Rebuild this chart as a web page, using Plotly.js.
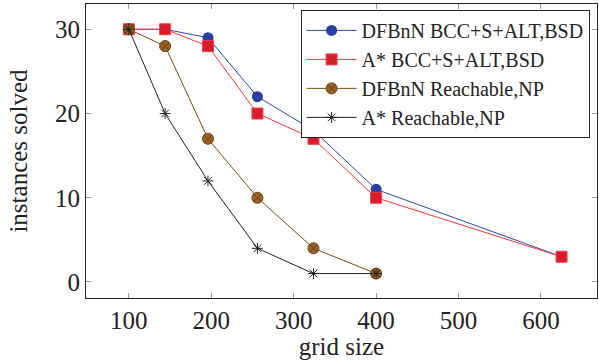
<!DOCTYPE html>
<html><head><meta charset="utf-8">
<script src="https://cdn.plot.ly/plotly-3.0.1.min.js"></script>
<style>body{margin:0;background:#fff}#c{width:599px;height:360px}</style>
</head><body><div id="c"></div>
<script>
const gridX = [100, 144, 196, 256, 324, 400, 625];
const gridXShort = [100, 144, 196, 256, 324, 400];
const dfbnnBCC = [30, 30, 29, 22, 18, 11, 3];
const astarBCC = [30, 30, 28, 20, 17, 10, 3];
const dfbnnReach = [30, 28, 17, 10, 4, 1];
const astarReach = [30, 20, 12, 4, 1, 1];
const names = ["DFBnN BCC+S+ALT,BSD", "A* BCC+S+ALT,BSD", "DFBnN Reachable,NP", "A* Reachable,NP"];
const xTicks = [100, 200, 300, 400, 500, 600];
const yTicks = [0, 10, 20, 30];

const traces = [
  {x: gridX, y: dfbnnBCC, name: names[0], mode: "lines+markers",
   line: {color: "#2b48b0", width: 1}, marker: {symbol: "circle", size: 11, color: "#2a3f9f"}},
  {x: gridX, y: astarBCC, name: names[1], mode: "lines+markers",
   line: {color: "#ff3040", width: 1}, marker: {symbol: "square", size: 11, color: "#d91c2a", line: {color: "#f04050", width: 1}}},
  {x: gridXShort, y: dfbnnReach, name: names[2], mode: "lines+markers",
   line: {color: "#7a4a14", width: 1}, marker: {symbol: "circle-x", size: 11, color: "#9c6224", line: {color: "#6b3f10", width: 1}}},
  {x: gridXShort, y: astarReach, name: names[3], mode: "lines+markers",
   line: {color: "#222", width: 1}, marker: {symbol: "asterisk-open", size: 9, color: "#222", line: {color: "#222", width: 1}}}
];

const F = "Liberation Serif";
const layout = {
  width: 599, height: 360,
  margin: {l: 86, r: 2, t: 4, b: 62},
  paper_bgcolor: "#fff", plot_bgcolor: "#fff",
  showlegend: true,
  legend: {x: 0.42, y: 0.98, xanchor: "left", yanchor: "top",
    bgcolor: "#fff", bordercolor: "#222", borderwidth: 1,
    font: {family: F, size: 20, color: "#222"}, tracegroupgap: 0, itemwidth: 50},
  xaxis: {range: [48, 668], tickvals: xTicks, ticktext: xTicks.map(String),
    showgrid: false, zeroline: false, showline: true, mirror: "ticks",
    linecolor: "#222", linewidth: 1, ticks: "inside", ticklen: 5, tickcolor: "#999",
    tickfont: {family: F, size: 25, color: "#222"},
    title: {text: "grid size", font: {family: F, size: 25, color: "#222"}, standoff: 0}},
  yaxis: {range: [-1.9, 33], tickvals: yTicks, ticktext: yTicks.map(String),
    showgrid: false, zeroline: false, showline: true, mirror: "ticks",
    linecolor: "#222", linewidth: 1, ticks: "inside", ticklen: 5, tickcolor: "#999",
    tickfont: {family: F, size: 25, color: "#222"},
    title: {text: "instances solved", font: {family: F, size: 25, color: "#222"}, standoff: 20}}
};
Plotly.newPlot("c", traces, layout, {displayModeBar: false, staticPlot: true});
</script></body></html>
